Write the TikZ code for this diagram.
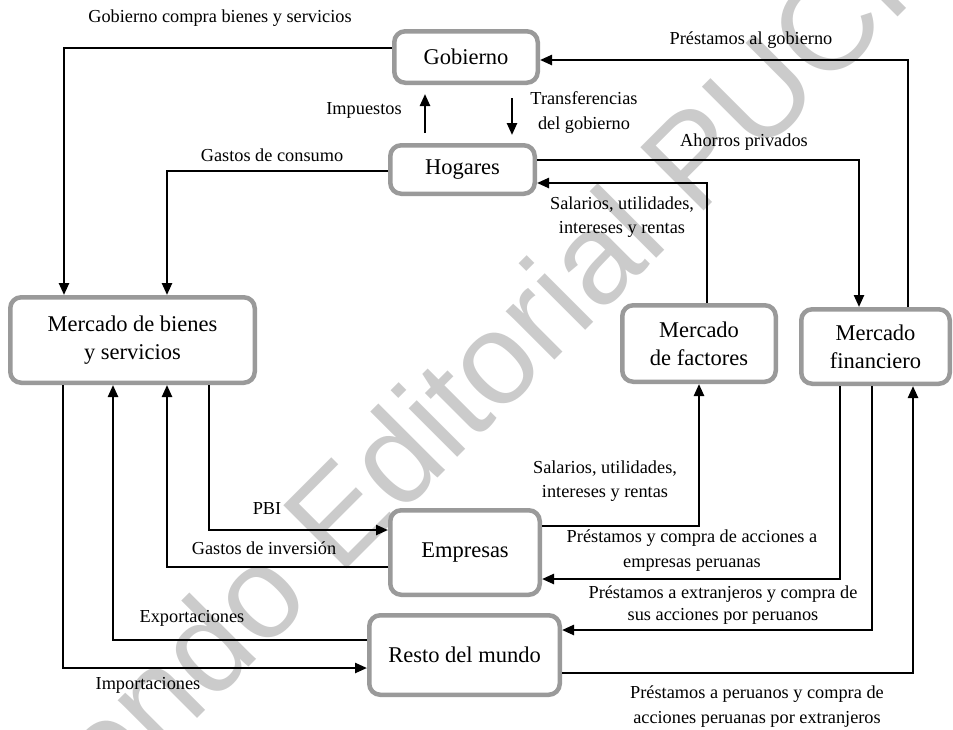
\documentclass[tikz,border=0pt]{standalone}
\usepackage{fontspec}
\setmainfont{Liberation Serif}
\newfontfamily\wmfont{Liberation Sans}
\usetikzlibrary{arrows.meta}
\definecolor{boxgray}{HTML}{9A9A9A}
\definecolor{wmgray}{HTML}{CBCBCB}

\begin{document}
\begin{tikzpicture}[x=1pt,y=-1pt,
  box/.style={draw=boxgray, line width=4.5pt, rounded corners=11pt, fill=white,
    align=center, inner sep=0pt, font=\fontsize{22.5}{28}\selectfont},
  conn/.style={line width=2.4pt, -{Triangle[length=12pt,width=10pt]}},
  lbl/.style={align=center, inner sep=0pt, font=\fontsize{18.3}{24.5}\selectfont},
]
\useasboundingbox (0,0) rectangle (953,729);

% watermark
\node[rotate=45, text=wmgray, inner sep=0pt,
  font=\wmfont\fontsize{130}{130}\selectfont] (wm) at (470,380) {Fondo Editorial PUCP};

% boxes
\node[box, minimum width=143.5pt, minimum height=51.5pt] (gob) at (466,57) {Gobierno};
\node[box, minimum width=144.5pt, minimum height=48.5pt] (hog) at (462.5,169.5) {Hogares};
\node[box, minimum width=244.5pt, minimum height=85.5pt] (bie) at (132.5,340) {Mercado de bienes\\y servicios};
\node[box, minimum width=149.5pt, minimum height=84.5pt] (emp) at (465,552.5) {Empresas};
\node[box, minimum width=190.5pt, minimum height=79.5pt] (res) at (464.5,655) {Resto del mundo};
\node[box, minimum width=153.5pt, minimum height=76.5pt] (fac) at (699,343.5) {Mercado\\de factores};
\node[box, minimum width=148.5pt, minimum height=74.5pt] (fin) at (875.5,346.5) {Mercado\\financiero};

% flows
\draw[conn] (gob.west |- 0,48) -| (bie.north -| 64,0);
\draw[conn, shorten <=10pt, shorten >=9pt] (hog.north -| 425,0) -- (gob.south -| 425,0);
\draw[conn, shorten <=13pt, shorten >=8pt] (gob.south -| 512,0) -- (hog.north -| 512,0);
\draw[conn] (hog.west |- 0,171) -| (bie.north -| 167,0);
\draw[conn] (fin.north -| 908,0) |- (gob.east |- 0,60);
\draw[conn] (hog.east |- 0,160) -| (fin.north -| 859,0);
\draw[conn] (fac.north -| 707,0) |- (hog.east |- 0,183);
\draw[conn] (emp.east |- 0,526) -| (fac.south -| 699,0);
\draw[conn] (bie.south -| 209,0) |- (emp.west |- 0,530);
\draw[conn] (emp.west |- 0,567) -| (bie.south -| 167,0);
\draw[conn] (res.west |- 0,640) -| (bie.south -| 113,0);
\draw[conn] (bie.south -| 63,0) |- (res.west |- 0,668);
\draw[conn] (fin.south -| 840,0) |- (emp.east |- 0,579);
\draw[conn] (fin.south -| 872,0) |- (res.east |- 0,630);
\draw[conn] (res.east |- 0,673) -| (fin.south -| 913,0);

% labels
\node[lbl] (l1) at (220,18) {Gobierno compra bienes y servicios};
\node[lbl] (l2) at (364,110) {Impuestos};
\node[lbl] (l3) at (584,112.5) {Transferencias\\del gobierno};
\node[lbl] (l4) at (272,155) {Gastos de consumo};
\node[lbl] (l5) at (751,40) {Préstamos al gobierno};
\node[lbl] (l6) at (744,142) {Ahorros privados};
\node[lbl] (l7) at (622,217) {Salarios, utilidades,\\intereses y rentas};
\node[lbl] (l8) at (605,481) {Salarios, utilidades,\\intereses y rentas};
\node[lbl] (l9) at (267,509) {PBI};
\node[lbl] (l10) at (264,548) {Gastos de inversión};
\node[lbl] (l11) at (192,618) {Exportaciones};
\node[lbl] (l12) at (148,685) {Importaciones};
\node[lbl] (l13) at (692,550.5) {Préstamos y compra de acciones a\\empresas peruanas};
\node[lbl, font=\fontsize{18.3}{22.5}\selectfont] (l14) at (723,605) {Préstamos a extranjeros y compra de\\sus acciones por peruanos};
\node[lbl] (l15) at (757,706.5) {Préstamos a peruanos y compra de\\acciones peruanas por extranjeros};
\end{tikzpicture}
\end{document}
